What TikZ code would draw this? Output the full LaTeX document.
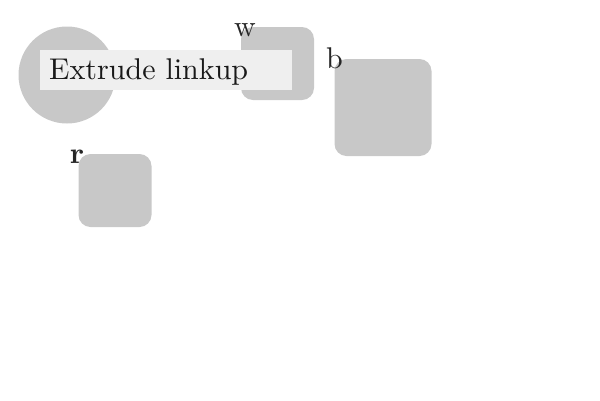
\documentclass[tikz,border=0pt]{standalone}
\usepackage{tikz}
\usepackage{graphicx}
\definecolor{blockgray}{RGB}{200,200,200}
\definecolor{tagfill}{RGB}{239,239,239}
\newcommand{\BIG}[1]{\scalebox{3}{#1}}

\begin{document}
\begin{tikzpicture}[x=1pt,y=-1pt,
    block/.style={rectangle,fill=blockgray,rounded corners=12pt,inner sep=0pt},
    tag/.style={inner sep=0pt,text=black!85}]
    \useasboundingbox (0,0) rectangle (600,400);
    \node (ball) at (67,75) [circle,fill=blockgray,minimum size=97pt,inner sep=0pt] {};
    \node (blockw) at (277.5,63.5) [block,minimum size=73pt] {};
    \node (blockb) at (383,107.5) [block,minimum size=97pt] {};
    \node (blockr) at (115,190.5) [block,minimum size=73pt] {};
    \node (title) at (40,70) [anchor=west,fill=tagfill,minimum height=40pt,
        text width=234pt,text height=20.8pt,text depth=2.8pt,
        inner xsep=9pt,inner ysep=0pt,align=left,text=black!90] {\BIG{Extrude linkup}};
    \node (tagw) at (245,30) [tag] {\BIG{w}};
    \node (tagb) at (334.5,58) [tag] {\BIG{b}};
    \node (tagr) at (77,157) [tag] {\BIG{\bfseries r}};
\end{tikzpicture}
\end{document}
